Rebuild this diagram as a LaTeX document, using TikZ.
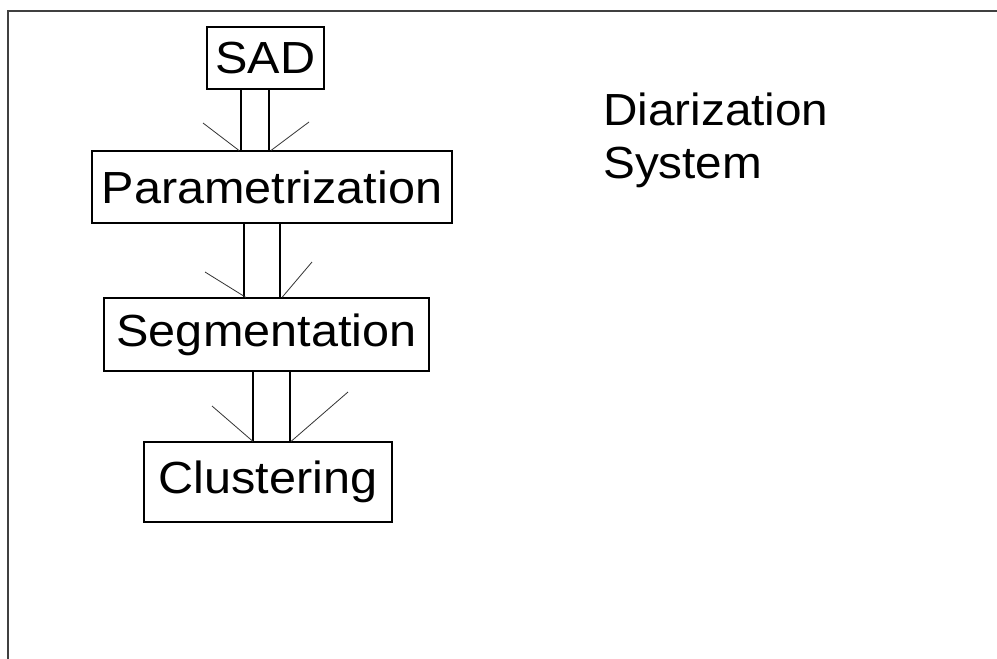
\documentclass[tikz,border=0pt]{standalone}
\usepackage{fontspec}
\setmainfont{Liberation Sans}[FakeStretch=1.08]
\newfontfamily\titlefont{Liberation Sans}[FakeStretch=1.06]
\begin{document}
\begin{tikzpicture}[x=1pt,y=-1pt,
  blk/.style={draw=black,line width=1.1pt,inner sep=0pt,font=\fontsize{45}{54}\selectfont,anchor=center},
  conn/.style={draw=black,line width=1.1pt},
  barb/.style={draw=black!80,line width=0.8pt}]
\useasboundingbox (0,0) rectangle (997,659);
\fill[white] (0,0) rectangle (997,659);
\draw[line width=1.3pt,black!75] (8,659) -- (8,11) -- (997,11);
\node[blk,minimum width=117pt,minimum height=62pt] (sad) at (265.5,58) {SAD};
\node[blk,minimum width=360pt,minimum height=72pt] (par) at (272,187) {Parametrization};
\node[blk,minimum width=325pt,minimum height=73pt] (seg) at (266.5,334.5) {Segmentation};
\node[blk,minimum width=248pt,minimum height=80pt] (clu) at (268,482) {Clustering};
\node[font=\titlefont\fontsize{45}{53}\selectfont,align=left,anchor=north west,inner sep=0pt] (title) at (603,93) {Diarization\\System};
% arrow 1
\draw[conn] (sad.south -| 241,0) -- (par.north -| 241,0);
\draw[conn] (sad.south -| 269,0) -- (par.north -| 269,0);
\coordinate (b1l) at (203,123);
\coordinate (b1r) at (309,122);
\draw[barb] (b1l) -- (par.north -| 239,0);
\draw[barb] (b1r) -- (par.north -| 271,0);
% arrow 2
\draw[conn] (par.south -| 244,0) -- (seg.north -| 244,0);
\draw[conn] (par.south -| 280,0) -- (seg.north -| 280,0);
\coordinate (b2l) at (205,272);
\coordinate (b2r) at (312,262);
\draw[barb] (b2l) -- (seg.north -| 246,0);
\draw[barb] (b2r) -- (seg.north -| 282,0);
% arrow 3
\draw[conn] (seg.south -| 253,0) -- (clu.north -| 253,0);
\draw[conn] (seg.south -| 290,0) -- (clu.north -| 290,0);
\coordinate (b3l) at (212,406);
\coordinate (b3r) at (348,392);
\draw[barb] (b3l) -- (clu.north -| 253,0);
\draw[barb] (b3r) -- (clu.north -| 291,0);
\end{tikzpicture}
\end{document}
